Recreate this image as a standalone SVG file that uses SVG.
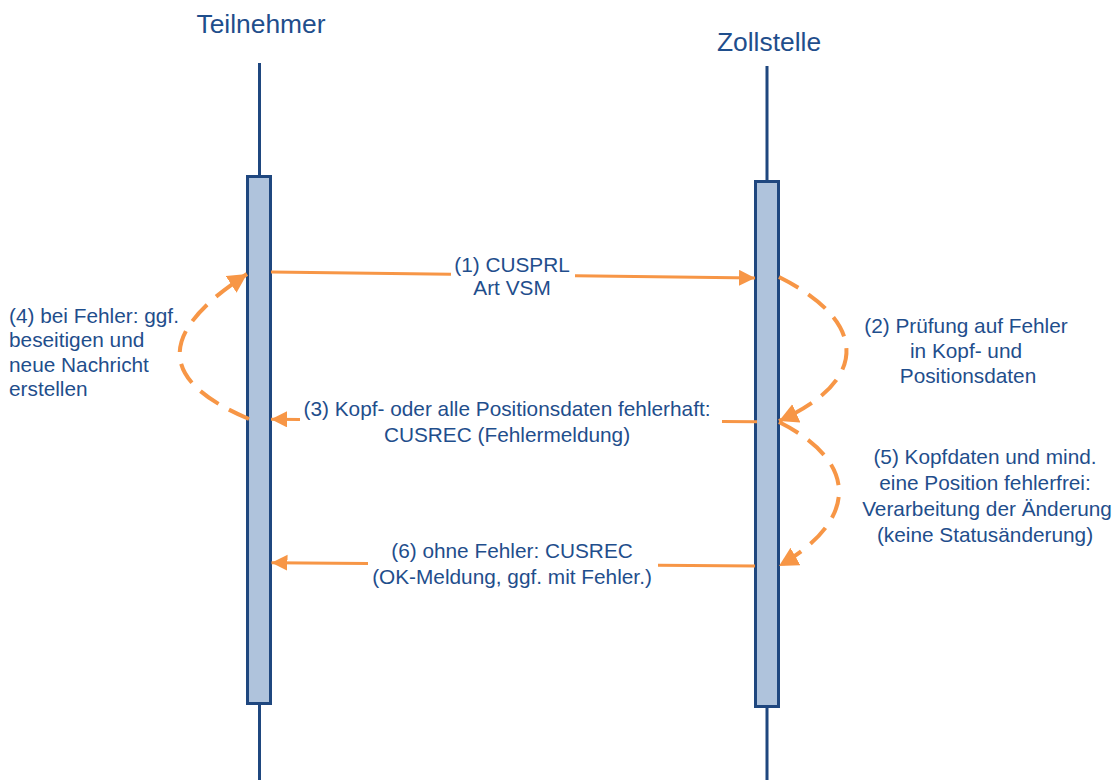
<svg xmlns="http://www.w3.org/2000/svg" width="1120" height="780" viewBox="0 0 1120 780">
<style>
text{font-family:"Liberation Sans",Arial,sans-serif;fill:#1F4E8C;font-size:20.8px}
.title{font-size:26.4px}
.mid{text-anchor:middle}
.life{stroke:#1F477F;stroke-width:3;fill:none}
.act{fill:#AFC3DC;stroke:#1F477F;stroke-width:3}
.msg{stroke:#F79646;stroke-width:3;fill:none}
.self{stroke:#F79646;stroke-width:4;fill:none;stroke-dasharray:22 12}
</style>
<defs>
<marker id="ah" markerUnits="userSpaceOnUse" markerWidth="20" markerHeight="20" refX="16" refY="8" orient="auto">
<path d="M0,0 L16,8 L0,16 z" fill="#F79646"/>
</marker>
<marker id="ah2" markerUnits="userSpaceOnUse" markerWidth="24" markerHeight="24" refX="19" refY="10" orient="auto">
<path d="M0,0 L19,10 L0,20 z" fill="#F79646"/>
</marker>
</defs>
<rect width="1120" height="780" fill="#FFFFFF"/>
<g id="teilnehmer">
<text class="title mid" x="261" y="33">Teilnehmer</text>
<line class="life" x1="259.5" y1="63" x2="259.5" y2="780"/>
<rect class="act" x="247.5" y="176.5" width="23" height="527"/>
</g>
<g id="zollstelle">
<text class="title mid" x="769" y="51">Zollstelle</text>
<line class="life" x1="767" y1="66" x2="767" y2="780"/>
<rect class="act" x="755.5" y="181.5" width="23" height="525"/>
</g>
<g id="connectors">
<path class="msg" d="M271 272 L451 274.3 M575 275.7 L755 278" marker-end="url(#ah)"/>
<path class="msg" d="M757 421.7 L722 421.5 M300 419.4 L271 419.3" marker-end="url(#ah)"/>
<path class="msg" d="M755 566 L658 565.3 M368 563.4 L271.5 562.7" marker-end="url(#ah)"/>
<path class="self" d="M249 419 C159 381 155 334 247 274" marker-end="url(#ah2)"/>
<path class="self" d="M779 277 C869 322 869 381 779 421" marker-end="url(#ah2)"/>
<path class="self" d="M779 422 C859 462 859 520 779 566" marker-end="url(#ah2)"/>
</g>
<g id="label1">
<text class="mid" x="512" y="272">(1) CUSPRL</text>
<text class="mid" x="512" y="295">Art VSM</text>
</g>
<g id="label2">
<text class="mid" x="966" y="333">(2) Prüfung auf Fehler</text>
<text class="mid" x="966" y="358">in Kopf- und</text>
<text class="mid" x="968" y="383">Positionsdaten</text>
</g>
<g id="label3">
<text class="mid" x="507" y="416">(3) Kopf- oder alle Positionsdaten fehlerhaft:</text>
<text class="mid" x="507" y="442">CUSREC (Fehlermeldung)</text>
</g>
<g id="label4">
<text x="9" y="323">(4) bei Fehler: ggf.</text>
<text x="9" y="347">beseitigen und</text>
<text x="9" y="372">neue Nachricht</text>
<text x="9" y="396">erstellen</text>
</g>
<g id="label5">
<text class="mid" x="985" y="464">(5) Kopfdaten und mind.</text>
<text class="mid" x="985" y="490">eine Position fehlerfrei:</text>
<text class="mid" x="987" y="516">Verarbeitung der Änderung</text>
<text class="mid" x="985" y="542">(keine Statusänderung)</text>
</g>
<g id="label6">
<text class="mid" x="512" y="558">(6) ohne Fehler: CUSREC</text>
<text class="mid" x="512" y="584">(OK-Meldung, ggf. mit Fehler.)</text>
</g>
</svg>
